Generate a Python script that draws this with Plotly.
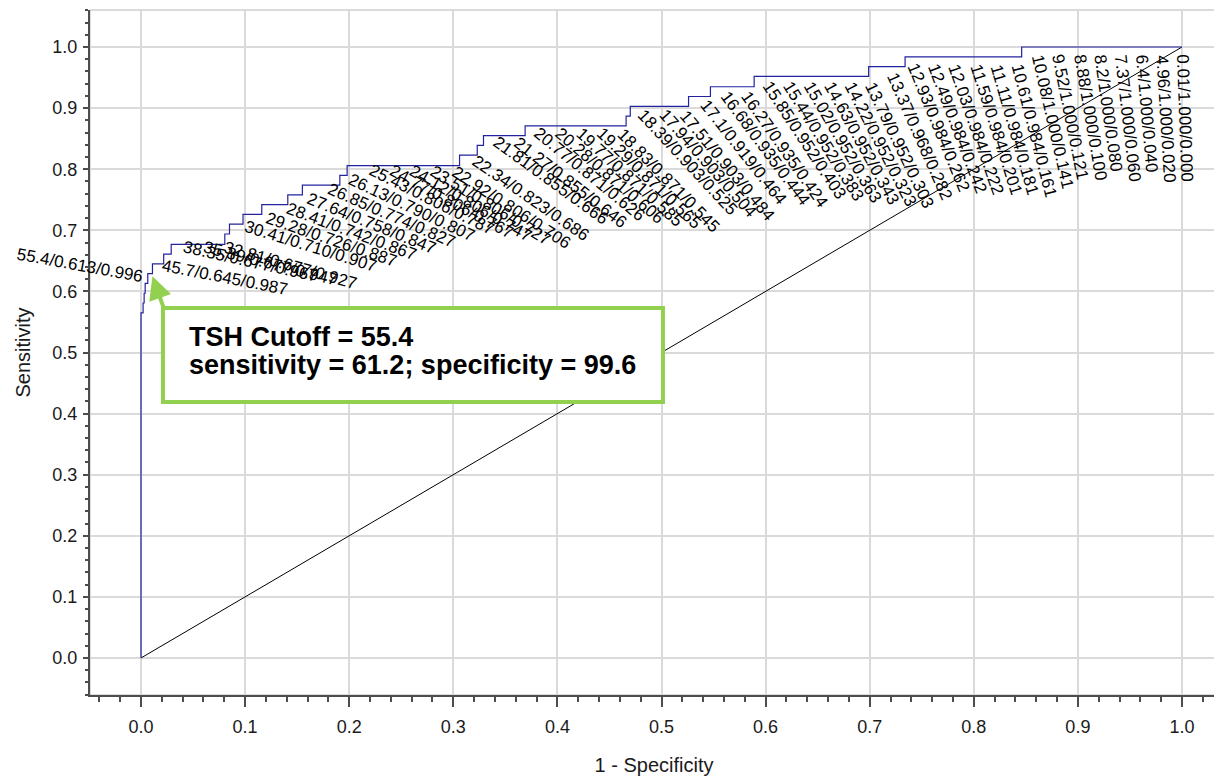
import math
import plotly.graph_objects as go

# ---------------- data ----------------
# ROC step curve vertices: (1 - specificity, sensitivity) reached at each step
roc_fpr = [0.0, 0.0, 0.002, 0.003, 0.004, 0.0065, 0.011, 0.0218, 0.029, 0.0805,
           0.085, 0.098, 0.116, 0.141, 0.155, 0.191, 0.198, 0.306, 0.323, 0.329,
           0.369, 0.466, 0.470, 0.526, 0.547, 0.589, 0.699, 0.734, 0.846, 1.0]
roc_tpr = [0.0, 0.565, 0.581, 0.597, 0.613, 0.629, 0.645, 0.661, 0.677, 0.694,
           0.710, 0.726, 0.742, 0.758, 0.774, 0.790, 0.806, 0.823, 0.839, 0.855,
           0.871, 0.887, 0.903, 0.919, 0.935, 0.952, 0.968, 0.984, 1.0, 1.0]

# Cutoff labels: threshold / sensitivity / specificity
cut_threshold = [0.01, 4.96, 6.4, 7.37, 8.2, 8.88, 9.52, 10.08, 10.61, 11.11,
                 11.59, 12.03, 12.49, 12.93, 13.37, 13.79, 14.22, 14.63, 15.02, 15.44,
                 15.85, 16.27, 16.68, 17.1, 17.51, 17.94, 18.39, 18.83, 19.29, 19.77,
                 20.28, 20.77, 21.27, 21.81, 22.34, 22.92, 23.51, 24.12, 24.77, 25.43,
                 26.13, 26.85, 27.64, 28.41, 29.28, 30.41, 32.81, 35.39, 38.35, 45.7,
                 55.4]
cut_sens = [1.000, 1.000, 1.000, 1.000, 1.000, 1.000, 1.000, 1.000, 0.984, 0.984,
            0.984, 0.984, 0.984, 0.984, 0.968, 0.952, 0.952, 0.952, 0.952, 0.952,
            0.952, 0.935, 0.935, 0.919, 0.903, 0.903, 0.903, 0.871, 0.871, 0.871,
            0.871, 0.871, 0.855, 0.855, 0.823, 0.806, 0.806, 0.806, 0.806, 0.806,
            0.790, 0.774, 0.758, 0.742, 0.726, 0.710, 0.677, 0.677, 0.677, 0.645,
            0.613]
cut_spec = [0.000, 0.020, 0.040, 0.060, 0.080, 0.100, 0.121, 0.141, 0.161, 0.181,
            0.201, 0.222, 0.242, 0.262, 0.282, 0.303, 0.323, 0.343, 0.363, 0.383,
            0.403, 0.424, 0.444, 0.464, 0.484, 0.504, 0.525, 0.545, 0.565, 0.585,
            0.606, 0.626, 0.646, 0.666, 0.686, 0.706, 0.727, 0.747, 0.767, 0.787,
            0.807, 0.827, 0.847, 0.867, 0.887, 0.907, 0.927, 0.947, 0.967, 0.987,
            0.996]

selected_cutoff = 55.4
callout_lines = ["TSH Cutoff = 55.4", "sensitivity = 61.2; specificity = 99.6"]

diag_x = [0, 1]
diag_y = [0, 1]

# ---------------- styles ----------------
FONT = "Liberation Sans, Arial, sans-serif"
LABEL_SIZE = 17
GREEN = "#92D050"
CURVE = "#2323a0"
AXIS = "#4d4d4d"
GRID = "#dadada"

fig = go.Figure()

fig.add_trace(go.Scatter(x=diag_x, y=diag_y, mode="lines",
                         line=dict(color="black", width=1), hoverinfo="skip"))
fig.add_trace(go.Scatter(x=roc_fpr, y=roc_tpr, mode="lines",
                         line=dict(color=CURVE, width=1.2, shape="hv")))


def text_width(s, size):
    return sum(0.556 if c.isdigit() else 0.278 for c in s) * size


annotations = []
for t, s, sp in zip(cut_threshold, cut_sens, cut_spec):
    label = f"{t}/{s:.3f}/{sp:.3f}"
    fpr = 1 - sp
    ang = 10 + 78 * fpr
    w = text_width(label, LABEL_SIZE)
    if t == selected_cutoff:
        r = -(w / 2 + 2)
        extra_up = 6
    else:
        r = w / 2 + 8
        extra_up = 0
    xs = r * math.cos(math.radians(ang))
    ys = -r * math.sin(math.radians(ang)) + extra_up
    annotations.append(dict(
        x=fpr, y=s, xref="x", yref="y", text=label, showarrow=False,
        textangle=ang, xanchor="center", yanchor="middle",
        xshift=xs, yshift=ys,
        font=dict(family=FONT, size=LABEL_SIZE, color="black")))

# callout text (one annotation per line for tight spacing)
for ln, yy in zip(callout_lines, [0.5253, 0.4795]):
    annotations.append(dict(
        x=0.0442, y=yy, xref="x", yref="y", xanchor="left", yanchor="middle",
        text=f"<b>{ln}</b>", align="left", showarrow=False,
        font=dict(family=FONT, size=27, color="black")))

# callout arrow
sel_i = cut_threshold.index(selected_cutoff)
annotations.append(dict(
    x=1 - cut_spec[sel_i] + 0.007, y=cut_sens[sel_i] + 0.012, xref="x", yref="y",
    text="", showarrow=True, arrowhead=2, arrowsize=1.15, arrowwidth=4,
    arrowcolor=GREEN, ax=12, ay=34, standoff=0))

shapes = [
    dict(type="rect", xref="paper", yref="paper", x0=0, x1=1, y0=0, y1=1,
         line=dict(color="#b5b5b5", width=1), layer="below"),
    dict(type="rect", xref="x", yref="y", x0=0.0211, x1=0.5014, y0=0.419, y1=0.5728,
         line=dict(color=GREEN, width=4), fillcolor="white", layer="above"),
]

axis_common = dict(
    showgrid=True, gridcolor=GRID, gridwidth=1.5, zeroline=False,
    showline=True, linecolor=AXIS, linewidth=2,
    ticks="outside", tickcolor=AXIS, tickwidth=1.5,
    dtick=0.1, tick0=0, tickformat=".1f",
    tickfont=dict(family=FONT, size=18, color="#1a1a1a"),
)

# page body has an 8px margin, so the figure is sized to fit the window
fig.update_layout(
    width=1214, height=768,
    margin=dict(l=82, r=4, t=2, b=81),
    paper_bgcolor="white", plot_bgcolor="white",
    showlegend=False,
    annotations=annotations,
    shapes=shapes,
    xaxis=dict(range=[-0.049, 1.0346], ticklen=10, ticklabelstandoff=4,
               minor=dict(dtick=0.02, ticks="outside", ticklen=5, tickcolor=AXIS,
                          tickwidth=1.5, showgrid=False),
               title=dict(text="1 - Specificity", standoff=22,
                          font=dict(family=FONT, size=20, color="#1a1a1a")),
               **axis_common),
    yaxis=dict(range=[-0.0606, 1.0606], ticklen=5, ticklabelstandoff=2,
               minor=dict(dtick=0.02, ticks="outside", ticklen=3, tickcolor=AXIS,
                          tickwidth=1.5, showgrid=False),
               title=dict(text="Sensitivity", standoff=16,
                          font=dict(family=FONT, size=20, color="#1a1a1a")),
               **axis_common),
)

fig.write_html("out.html")
